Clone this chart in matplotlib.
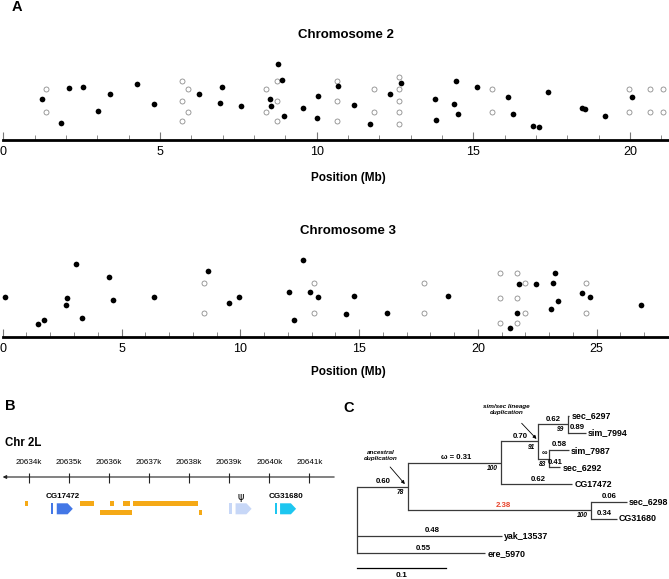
import matplotlib
matplotlib.use("Agg")
import matplotlib.pyplot as plt
from matplotlib.patches import Polygon, Rectangle
import numpy as np

plt.rcParams['font.family'] = ['Liberation Sans', 'DejaVu Sans']

W, H = 669, 579

# ---- panel A: chromosome 2 (position in Mb, stacking height) ----
chr2_full_pos = [1.25, 1.84, 2.10, 2.55, 3.03, 3.40, 4.28, 4.80, 6.26, 6.91, 6.98, 7.59,
                 8.52, 8.54, 8.78, 8.90, 8.96, 9.57, 10.00, 10.05, 10.69, 11.20, 11.70,
                 12.34, 12.68, 13.77, 13.82, 14.43, 14.38, 14.51, 15.12, 16.11, 16.26,
                 16.90, 17.08, 17.37, 18.48, 18.56, 19.19, 20.06]
chr2_full_h = [41, 17.3, 52.3, 52.7, 29, 46.3, 55.7, 35.7, 46, 37, 53, 33.7,
               41, 34, 75.7, 60, 23.7, 32.3, 22, 43.7, 54, 35.3, 15.7,
               46.3, 56.7, 41, 19.7, 58.7, 36, 26.3, 52.7, 42.7, 26,
               14.3, 12.7, 47.7, 32.3, 30.7, 24, 43.3]
chr2_open_pos = [1.36, 1.36, 5.70, 5.70, 5.70, 5.90, 5.90, 8.38, 8.38, 8.72, 8.72, 8.72,
                 10.64, 10.64, 10.64, 11.82, 11.82, 12.63, 12.63, 12.63, 12.63, 12.63,
                 15.59, 15.59, 19.95, 19.95, 20.62, 20.62, 21.05, 21.05]
chr2_open_h = [51, 28, 59, 39.3, 19.3, 51, 27.7, 51, 27.7, 59, 39.3, 19.3,
               59, 39.3, 19.3, 51, 27.7, 63, 51, 39.3, 27.7, 15.7,
               51, 27.7, 51, 27.7, 51, 27.7, 51, 27.7]

# ---- panel A: chromosome 3 ----
chr3_full_pos = [0.11, 1.50, 1.75, 2.67, 2.69, 3.09, 3.35, 4.46, 4.66, 6.38, 8.62, 9.52,
                 9.95, 12.07, 12.28, 12.64, 12.94, 13.25, 14.44, 14.80, 16.17, 18.72,
                 21.36, 21.63, 21.71, 22.45, 23.09, 23.16, 23.25, 23.37, 24.38, 24.73, 26.85]
chr3_full_h = [40.3, 13.6, 17.6, 32, 39, 73.6, 19.6, 60.3, 37, 40.3, 66.3, 34.3,
               40.3, 45, 17.6, 77.6, 45.3, 40.6, 23.3, 41.6, 24.6, 41.3,
               9, 24.6, 53, 53.3, 28.6, 54.6, 64, 36.6, 44, 40.3, 32.6]
chr3_open_pos = [8.46, 8.46, 13.09, 13.09, 17.74, 17.74, 20.94, 20.94, 20.94,
                 21.63, 21.63, 21.63, 21.99, 21.99, 24.55, 24.55]
chr3_open_h = [54.3, 24.3, 54.3, 24.3, 54.3, 24.3, 64.3, 39.6, 14.6,
               64.3, 39.6, 14.6, 54.3, 24.3, 54.3, 24.3]

# ---- panel B: Chr 2L region (kb) ----
b_ticks = [20634, 20635, 20636, 20637, 20638, 20639, 20640, 20641]
b_tick_labels = ["20634k", "20635k", "20636k", "20637k", "20638k", "20639k", "20640k", "20641k"]
orange_row1 = [(20633.91, 20633.98), (20635.28, 20635.63), (20636.03, 20636.13),
               (20636.35, 20636.53), (20636.61, 20638.23)]
orange_row2 = [(20635.78, 20636.58), (20638.25, 20638.32)]
gene_names = ["CG17472", "\u03c8", "CG31680"]
gene_bar = [(20634.55, 20634.61), (20639.00, 20639.07), (20640.14, 20640.20)]
gene_body = [(20634.70, 20635.10), (20639.16, 20639.56), (20640.27, 20640.67)]
gene_colors = ["#4377E6", "#C7D7F7", "#1DC6F0"]

# ---- panel C: tree ----
tree_nodes = ["root", "anc", "up", "simsec", "n1", "sec_6297", "sim_7994", "n2",
              "sim_7987", "sec_6292", "CG17472", "n3", "sec_6298", "CG31680",
              "yak_13537", "ere_5970"]
tree_parent = [None, "root", "anc", "up", "simsec", "n1", "n1", "simsec", "n2", "n2",
               "up", "anc", "n3", "n3", "root", "root"]
tree_blen = [0, 0.0566, 0.1054, 0.0420, 0.0331, 0.0017, 0.0203, 0.0124, 0.0222, 0.0121,
             0.0804, 0.2069, 0.0402, 0.0290, 0.1628, 0.1440]
omega = {"anc": "0.60", "up": "\u03c9 = 0.31", "simsec": "0.70", "n1": "0.62",
         "sim_7994": "0.89", "n2": "\u221e", "sim_7987": "0.58", "sec_6292": "0.41",
         "CG17472": "0.62", "n3": "2.38", "sec_6298": "0.06", "CG31680": "0.34",
         "yak_13537": "0.48", "ere_5970": "0.55"}
bootstrap = {"anc": "78", "up": "100", "simsec": "91", "n1": "99", "n2": "83", "n3": "100"}


def px_axes(fig, x0, y0, x1, y1):
    return fig.add_axes([x0 / W, 1 - y1 / H, (x1 - x0) / W, (y1 - y0) / H])


def ftext(fig, x, y, s, **kw):
    fig.text(x / W, 1 - y / H, s, **kw)


fig = plt.figure(figsize=(W / 100, H / 100), dpi=100)


def chrom_axes(ax, full_pos, full_h, open_pos, open_h, xmax, ymax):
    ax.plot(open_pos, open_h, 'o', ms=3.6, mfc='white', mec='#8c8c8c', mew=0.6,
            clip_on=False, zorder=2)
    ax.plot(full_pos, full_h, 'o', ms=4.1, color='black', mew=0, clip_on=False, zorder=3)
    ax.set_xlim(0, xmax)
    ax.set_ylim(0, ymax)
    for s in ['top', 'right', 'left']:
        ax.spines[s].set_visible(False)
    ax.spines['bottom'].set_linewidth(2)
    ax.set_xticks(np.arange(0, xmax, 5))
    ax.set_xticks(np.arange(0, xmax, 1), minor=True)
    ax.set_yticks([])
    ax.tick_params(axis='x', which='major', direction='in', length=6, width=0.8,
                   color='#777777', labelsize=9, pad=4)
    ax.tick_params(axis='x', which='minor', direction='in', length=3.5, width=0.6,
                   color='#777777')
    ax.patch.set_alpha(0)


ax2 = px_axes(fig, 3.3, 50, 667.7, 140)
chrom_axes(ax2, chr2_full_pos, chr2_full_h, chr2_open_pos, chr2_open_h, 21.2, 90)
ax3 = px_axes(fig, 2.7, 250, 668, 337.3)
chrom_axes(ax3, chr3_full_pos, chr3_full_h, chr3_open_pos, chr3_open_h, 28.0, 87.3)

ftext(fig, 17, 7, "A", fontsize=10.5, fontweight='bold', ha='center', va='center')
ftext(fig, 346, 35, "Chromosome 2", fontsize=9.5, fontweight='bold', ha='center', va='center')
ftext(fig, 348, 178, "Position (Mb)", fontsize=8.5, fontweight='bold', ha='center', va='center')
ftext(fig, 348, 231, "Chromosome 3", fontsize=9.5, fontweight='bold', ha='center', va='center')
ftext(fig, 348, 372, "Position (Mb)", fontsize=8.5, fontweight='bold', ha='center', va='center')

# ---- panel B ----
axb = px_axes(fig, 0, 430, 340, 530)
axb.set_xlim(20633.284, 20641.765)
axb.set_ylim(-53, 47)
axb.axis('off')
axb.annotate('', xy=(20633.35, 0), xytext=(20641.62, 0),
             arrowprops=dict(arrowstyle='-|>', lw=0.8, color='#222222', mutation_scale=5,
                             shrinkA=0, shrinkB=0))
axb.vlines(b_ticks, -5.7, 4.3, color='#222222', lw=0.8)
for t, lab in zip(b_ticks, b_tick_labels):
    axb.text(t, 14, lab, fontsize=5.8, ha='center', va='center')
for a, b in orange_row1:
    axb.add_patch(Rectangle((a, -29), b - a, 5, color='#F5A916', lw=0))
for a, b in orange_row2:
    axb.add_patch(Rectangle((a, -38), b - a, 5, color='#F5A916', lw=0))
head = 0.13
for name, bar, body, col in zip(gene_names, gene_bar, gene_body, gene_colors):
    axb.add_patch(Rectangle((bar[0], -37.3), bar[1] - bar[0], 11, color=col, lw=0))
    s, e = body
    axb.add_patch(Polygon([(s, -26.3), (e - head, -26.3), (e, -31.8), (e - head, -37.3),
                           (s, -37.3)], closed=True, color=col, lw=0))
    if name == "\u03c8":
        axb.text((bar[0] + e) / 2 + 0.02, -19.5, name, fontsize=7, family='DejaVu Sans',
                 ha='center', va='center')
    else:
        axb.text((bar[0] + e) / 2 + 0.02, -19.5, name, fontsize=5.8, fontweight='bold',
                 ha='center', va='center')

ftext(fig, 10.5, 405.5, "B", fontsize=10.5, fontweight='bold', ha='center', va='center')
ftext(fig, 5, 443.3, "Chr 2L", fontsize=8.3, fontweight='bold', ha='left', va='center')

# ---- panel C ----
axc = px_axes(fig, 340, 395, 669, 579)
axc.set_xlim(-0.0195, 0.3514)
axc.set_ylim(9.494, -1.203)
axc.axis('off')

idx = {n: i for i, n in enumerate(tree_nodes)}
xs = {}
for n, p, bl in zip(tree_nodes, tree_parent, tree_blen):
    xs[n] = 0.0 if p is None else xs[p] + bl
children = {n: [c for c, p in zip(tree_nodes, tree_parent) if p == n] for n in tree_nodes}
ys = {}
tip = 0
for n in tree_nodes:
    if not children[n]:
        ys[n] = tip
        tip += 1
for n in reversed(tree_nodes):
    if children[n]:
        cy = [ys[c] for c in children[n]]
        ys[n] = (min(cy) + max(cy)) / 2

lc = '#3a3a3a'
for n, p in zip(tree_nodes, tree_parent):
    if p is not None:
        axc.plot([xs[p], xs[n]], [ys[n], ys[n]], color=lc, lw=0.9, solid_capstyle='butt')
    if children[n]:
        cy = [ys[c] for c in children[n]]
        axc.plot([xs[n], xs[n]], [min(cy), max(cy)], color=lc, lw=0.9)
    if not children[n]:
        axc.text(xs[n] + 0.0025, ys[n], n, fontsize=6.4, fontweight='bold',
                 ha='left', va='center')
for n, lab in omega.items():
    p = tree_parent[idx[n]]
    xm = xs[p] + 0.52 * (xs[n] - xs[p])
    axc.text(xm, ys[n] - 0.3, lab, fontsize=5.6, fontweight='bold', ha='center',
             va='center', color='#E8432B' if n == 'n3' else 'black')
for n, lab in bootstrap.items():
    axc.text(xs[n] - 0.004, ys[n] + 0.33, lab, fontsize=4.8, fontweight='bold',
             style='italic', ha='right', va='center')

# duplication arrows
axc.text(0.0264, 2.33, "ancestral\nduplication", fontsize=4.6, fontweight='bold',
         style='italic', ha='center', va='center', linespacing=1.3)
axc.annotate('', xy=(xs['anc'] - 0.003, ys['anc'] - 0.15), xytext=(0.037, 2.98),
             arrowprops=dict(arrowstyle='-|>', lw=0.6, color='black', mutation_scale=5,
                             shrinkA=0, shrinkB=0))
axc.text(0.1684, -0.343, "sim/sec lineage\nduplication", fontsize=4.6, fontweight='bold',
         style='italic', ha='center', va='center', linespacing=1.3)
axc.annotate('', xy=(xs['simsec'] - 0.002, ys['simsec'] - 0.15), xytext=(0.1853, 0.44),
             arrowprops=dict(arrowstyle='-|>', lw=0.6, color='black', mutation_scale=5,
                             shrinkA=0, shrinkB=0))

# scale bar
axc.plot([0, 0.1], [8.84, 8.84], color='black', lw=0.9)
axc.text(0.05, 9.3, "0.1", fontsize=6, fontweight='bold', ha='center', va='center')

ftext(fig, 348.3, 408.3, "C", fontsize=10.5, fontweight='bold', ha='center', va='center')

fig.savefig("out.png", dpi=100)
